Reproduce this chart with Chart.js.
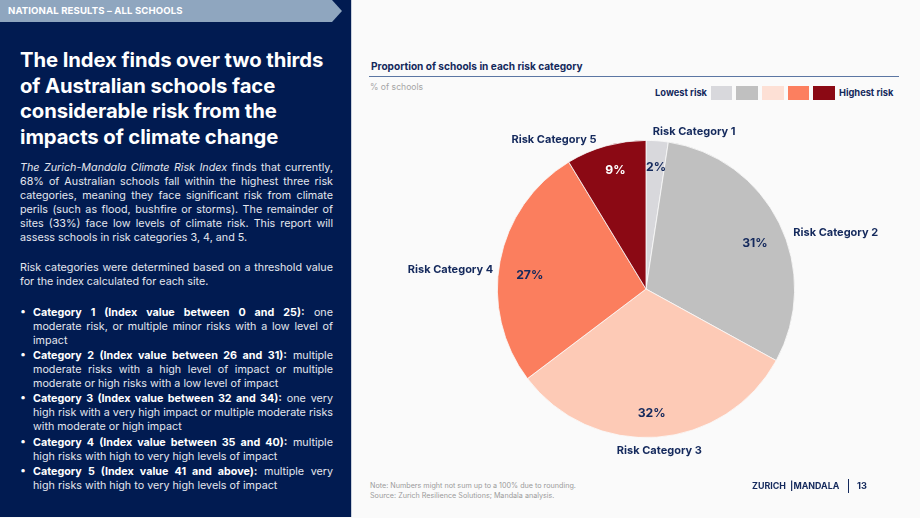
<!DOCTYPE html>
<html>
<head>
<meta charset="utf-8">
<script src="https://cdn.jsdelivr.net/npm/chart.js@4.4.1/dist/chart.umd.min.js"></script>
<style>
  html, body { margin:0; padding:0; }
  body { width:920px; height:518px; overflow:hidden; position:relative; background:#fafafa; font-family:Inter, "Noto Sans", sans-serif; }
  .panel { position:absolute; left:0; top:0; width:351px; height:517px; background:#011b51; box-shadow:1px 0 0 #c9d0dc; }
  .tab { position:absolute; left:0; top:0; width:342px; height:22px; background:#8fa6bf;
         clip-path:polygon(0 0, 332px 0, 342px 11px, 332px 22px, 0 22px); }
  .tab span { position:absolute; left:8px; top:5px; font-size:9.6px; font-weight:700; color:#fff; letter-spacing:0.1px; white-space:nowrap; }
  .head { position:absolute; left:20px; top:47px; color:#fff; font-size:20.3px; font-weight:700; line-height:25.6px; white-space:nowrap; letter-spacing:-0.1px; }
  .txt { position:absolute; left:20px; width:313px; color:#e3e6ee; font-size:10.75px; line-height:13.9px; }
  .txt .j { display:block; text-align:justify; text-align-last:justify; white-space:nowrap; }
  .txt .l { display:block; white-space:nowrap; }
  .item { position:absolute; left:33px; width:300px; color:#e3e6ee; font-size:10.75px; line-height:14.2px; }
  .item b { color:#fff; }
  .item::before { content:"\2022"; position:absolute; left:-13px; top:-1px; color:#fff; font-size:10.75px; line-height:14.2px; }
  .item .j { display:block; text-align:justify; text-align-last:justify; white-space:nowrap; }
  .item .l { display:block; white-space:nowrap; }
  .ctitle { position:absolute; left:371px; top:60px; font-size:10.1px; font-weight:700; color:#14295c; white-space:nowrap; }
  .rule { position:absolute; left:369px; top:76px; width:530px; height:1px; background:#5b76a3; }
  .unit { position:absolute; left:370px; top:82px; font-size:8.6px; color:#a5a5a5; white-space:nowrap; }
  .lg { position:absolute; top:87px; font-size:9.3px; font-weight:700; color:#14295c; white-space:nowrap; }
  .box { position:absolute; top:86px; width:21.7px; height:13.5px; }
  .note { position:absolute; left:370px; top:481px; font-size:7.2px; line-height:10px; color:#9a9a9a; white-space:nowrap; }
  .brand { position:absolute; left:752px; top:480px; font-size:8.9px; font-weight:700; color:#14295c; white-space:nowrap; }
  .vline { position:absolute; left:848px; top:479px; width:1px; height:14px; background:#14295c; }
  .page { position:absolute; left:857px; top:480px; font-size:9.2px; font-weight:700; color:#14295c; }
  #pie { position:absolute; left:360px; top:100px; }
</style>
</head>
<body>
<div class="panel"></div>
<div class="tab"><span>NATIONAL RESULTS – ALL SCHOOLS</span></div>
<div class="head">The Index finds over two thirds<br>of Australian schools face<br>considerable risk from the<br>impacts of climate change</div>

<div class="txt" style="top:161px">
  <span class="j"><i>The Zurich-Mandala Climate Risk Index</i> finds that currently,</span>
  <span class="j">68% of Australian schools fall within the highest three risk</span>
  <span class="j">categories, meaning they face significant risk from climate</span>
  <span class="j">perils (such as flood, bushfire or storms). The remainder of</span>
  <span class="j">sites (33%) face low levels of climate risk. This report will</span>
  <span class="l">assess schools in risk categories 3, 4, and 5.</span>
</div>
<div class="txt" style="top:261px">
  <span class="j">Risk categories were determined based on a threshold value</span>
  <span class="l">for the index calculated for each site.</span>
</div>

<div class="item" style="top:306px">
  <span class="j"><b>Category 1 (Index value between 0 and 25):</b> one</span>
  <span class="j">moderate risk, or multiple minor risks with a low level of</span>
  <span class="l">impact</span>
</div>
<div class="item" style="top:349px">
  <span class="j"><b>Category 2 (Index value between 26 and 31):</b> multiple</span>
  <span class="j">moderate risks with a high level of impact or multiple</span>
  <span class="l">moderate or high risks with a low level of impact</span>
</div>
<div class="item" style="top:392px">
  <span class="j"><b>Category 3 (Index value between 32 and 34):</b> one very</span>
  <span class="j">high risk with a very high impact or multiple moderate risks</span>
  <span class="l">with moderate or high impact</span>
</div>
<div class="item" style="top:436px">
  <span class="j"><b>Category 4 (Index value between 35 and 40):</b> multiple</span>
  <span class="l">high risks with high to very high levels of impact</span>
</div>
<div class="item" style="top:465px">
  <span class="j"><b>Category 5 (Index value 41 and above):</b> multiple very</span>
  <span class="l">high risks with high to very high levels of impact</span>
</div>

<div class="ctitle">Proportion of schools in each risk category</div>
<div class="rule"></div>
<div class="unit">% of schools</div>
<div id="legend"></div>

<canvas id="pie" width="560" height="380"></canvas>

<div class="note">Note: Numbers might not sum up to a 100% due to rounding.<br>Source: Zurich Resilience Solutions; Mandala analysis.</div>
<div class="brand">ZURICH &nbsp;|MANDALA</div>
<div class="vline"></div>
<div class="page">13</div>

<script>
// ---- data ----
const categories = ['Risk Category 1', 'Risk Category 2', 'Risk Category 3', 'Risk Category 4', 'Risk Category 5'];
const shares = [2.4, 30.6, 31.7, 26.6, 8.7];          // % of schools (estimated, unrounded)
const shareLabels = ['2%', '31%', '32%', '27%', '9%']; // as printed
const legendEnds = ['Lowest risk', 'Highest risk'];

// ---- styles ----
const sliceColors = ['#d8d8dc', '#c0c0c0', '#fdcab6', '#fb7e5e', '#8b0914'];
const legendColors = ['#d8d8dc', '#c0c0c0', '#fde0d5', '#fc7f5f', '#8b0914'];
const pctColors = ['#14295c', '#14295c', '#14295c', '#14295c', '#ffffff'];
const nameAlign = ['left', 'left', 'center', 'right', 'right'];
const nameNudge = [[-5, 0], [6, 13], [2, 4], [2, 10], [-7, 2]];
const pctNudge = [[1, -2], [1, 8], [-3, 4], [2, 9], [2, -3]];
const navy = '#14295c';

// legend (HTML)
(function () {
  const lg = document.getElementById('legend');
  const lo = document.createElement('div');
  lo.className = 'lg'; lo.textContent = legendEnds[0];
  lo.style.right = (920 - 707) + 'px';
  lg.appendChild(lo);
  legendColors.forEach((c, i) => {
    const b = document.createElement('div');
    b.className = 'box'; b.style.background = c;
    b.style.left = (710.7 + i * 25.65) + 'px';
    lg.appendChild(b);
  });
  const hi = document.createElement('div');
  hi.className = 'lg'; hi.textContent = legendEnds[1];
  hi.style.left = '839px';
  lg.appendChild(hi);
})();

const labelPlugin = {
  id: 'sliceLabels',
  afterDatasetsDraw(chart) {
    const ctx = chart.ctx;
    const meta = chart.getDatasetMeta(0);
    ctx.save();
    meta.data.forEach((arc, i) => {
      const p = arc.getProps(['x', 'y', 'startAngle', 'endAngle', 'outerRadius'], true);
      const mid = (p.startAngle + p.endAngle) / 2;
      // percentage inside
      const r1 = p.outerRadius * 0.81;
      ctx.font = '700 12.2px Inter, "Noto Sans", sans-serif';
      ctx.fillStyle = pctColors[i];
      ctx.textAlign = 'center';
      ctx.textBaseline = 'middle';
      ctx.fillText(shareLabels[i], p.x + Math.cos(mid) * r1 + pctNudge[i][0], p.y + Math.sin(mid) * r1 + pctNudge[i][1]);
      // category name outside
      const r2 = p.outerRadius + 9;
      ctx.font = '700 11px Inter, "Noto Sans", sans-serif';
      ctx.fillStyle = navy;
      ctx.textAlign = nameAlign[i];
      ctx.fillText(categories[i], p.x + Math.cos(mid) * r2 + nameNudge[i][0], p.y + Math.sin(mid) * r2 + nameNudge[i][1]);
    });
    ctx.restore();
  }
};

new Chart(document.getElementById('pie'), {
  type: 'pie',
  data: {
    labels: categories,
    datasets: [{
      data: shares,
      backgroundColor: sliceColors,
      borderColor: '#fafafa',
      borderWidth: 0.8,
      hoverOffset: 0
    }]
  },
  options: {
    responsive: false,
    animation: false,
    devicePixelRatio: 1,
    layout: { padding: { left: 137, right: 125, top: 40, bottom: 42 } },
    plugins: { legend: { display: false }, tooltip: { enabled: false } }
  },
  plugins: [labelPlugin]
});
</script>
</body>
</html>
